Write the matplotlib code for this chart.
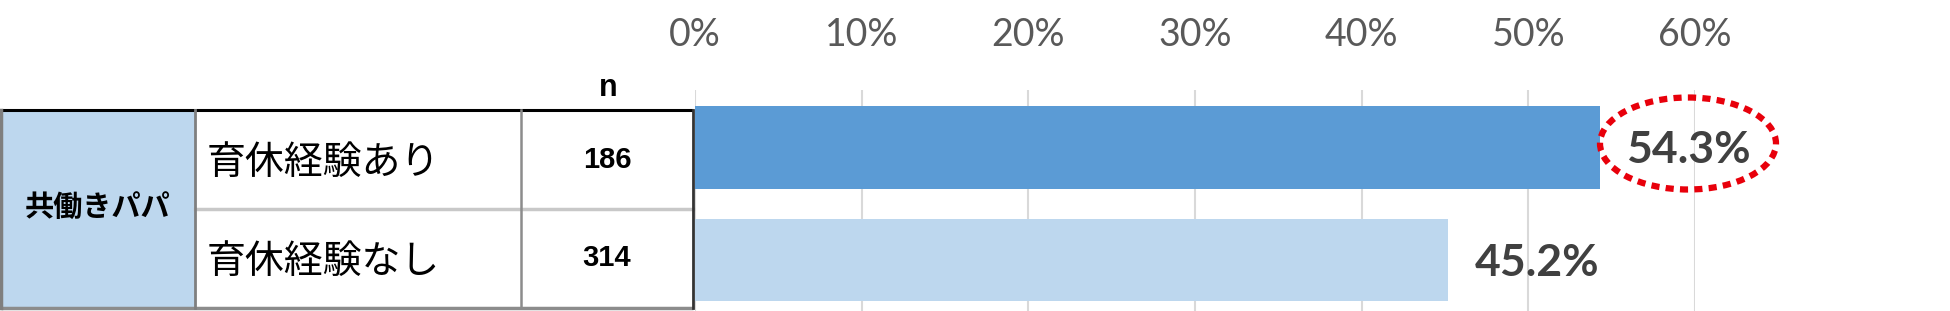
import matplotlib.pyplot as plt
from matplotlib.patches import Rectangle, Ellipse

# data
group_label = "共働きパパ"
categories = ["育休経験あり", "育休経験なし"]
n_values = [186, 314]
shares = [0.543, 0.452]
bar_colors = ["#5B9BD5", "#BDD7EE"]
xticks = [0, 0.1, 0.2, 0.3, 0.4, 0.5, 0.6]
xtick_labels = ["0%", "10%", "20%", "30%", "40%", "50%", "60%"]

W, H = 1950, 311
fig = plt.figure(figsize=(W / 100, H / 100), dpi=100)

# bar axes (0% .. 60% spans 695..1695 px, top of grid at 90 px)
ax = fig.add_axes([695 / W, 0, 1000 / W, 221 / H])
y = list(range(len(categories)))
ax.barh(y, shares, height=0.73, color=bar_colors, zorder=2)
ax.set_xlim(0, 0.6)
ax.set_ylim(1.453, -0.511)
ax.set_xticks(xticks)
ax.set_xticklabels(xtick_labels, family=["Lato", "DejaVu Sans"], fontsize=27, color="#595959")
ax.xaxis.tick_top()
ax.tick_params(axis="x", length=0, pad=27)
ax.set_yticks([])
ax.grid(axis="x", color="#D9D9D9", linewidth=1.5, zorder=0)
for s in ax.spines.values():
    s.set_visible(False)

for yi, v in zip(y, shares):
    ax.annotate(f"{v * 100:.1f}%", (v, yi), xytext=(19, -2), textcoords="offset points",
                ha="left", va="center", fontsize=32, fontweight="bold",
                family=["Lato", "DejaVu Sans"], color="#404040", annotation_clip=False)

# overlay in pixel coordinates for the table
ov = fig.add_axes([0, 0, 1, 1], zorder=5)
ov.set_xlim(0, W)
ov.set_ylim(H, 0)
ov.axis("off")

top, mid, bot = 110, 209, 308
c0, c1, c2, c3 = 1, 195, 521, 693
ov.add_patch(Rectangle((c0, top), c1 - c0, bot - top, facecolor="#BDD7EE", edgecolor="none"))
ov.plot([c0, c3], [top, top], color="black", lw=2.2, solid_capstyle="butt")
ov.plot([c0, c3], [bot, bot], color="#8C8C8C", lw=2.5, solid_capstyle="butt")
ov.plot([c1, c3], [mid, mid], color="#C8C8C8", lw=2.5)
ov.plot([c0, c0], [top, bot], color="#7F7F7F", lw=2.5)
ov.plot([c1, c1], [top, bot], color="#7F7F7F", lw=2)
ov.plot([c2, c2], [top, bot], color="#8C8C8C", lw=1.8)
ov.plot([c3, c3], [top, bot], color="#333333", lw=2)

cjk = ["Noto Sans CJK JP", "DejaVu Sans"]
num_font = ["Liberation Sans Narrow", "Liberation Sans"]
ov.text((c0 + c1) / 2, (top + bot) / 2 - 2, group_label, ha="center", va="center",
        fontsize=21, fontweight="bold", family=cjk)
ov.text((c2 + c3) / 2 + 1, 88, "n", ha="center", va="center", fontsize=22,
        fontweight="bold", family=num_font)
rows = [(top + mid) / 2, (mid + bot) / 2]
for ry, cat, n in zip(rows, categories, n_values):
    ov.text(c1 + 12, ry + 3, cat, ha="left", va="center", fontsize=28, family=cjk)
    ov.text((c2 + c3) / 2, ry, str(n), ha="center", va="center", fontsize=21,
            fontweight="bold", family=num_font)

# red dotted circle around the top value label
fig.canvas.draw()
px, py = ax.transData.transform((shares[0], y[0]))
ov.add_patch(Ellipse((px + 88, H - py - 4), 176, 92, fill=False, edgecolor="#E8000B",
                     lw=4.5, linestyle=(0, (1.3, 1.0))))

fig.savefig("out.png", dpi=100)
